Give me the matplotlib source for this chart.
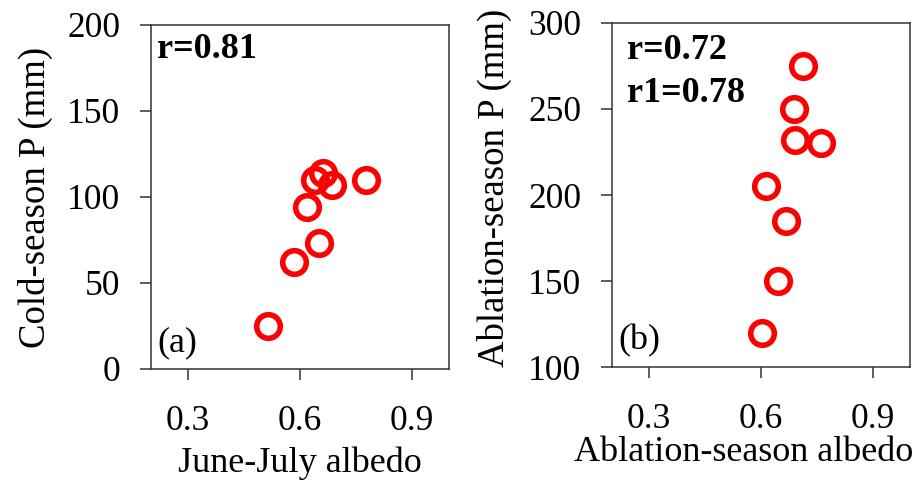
import matplotlib
matplotlib.use("Agg")
import matplotlib.pyplot as plt

# panel (a): June-July albedo vs cold-season precipitation
albedo_jj = [0.515, 0.584, 0.652, 0.618, 0.640, 0.662, 0.686, 0.778]
precip_cold = [25, 62, 73, 94, 110, 114, 107, 110]

# panel (b): ablation-season albedo vs ablation-season precipitation
albedo_abl = [0.712, 0.689, 0.692, 0.762, 0.613, 0.666, 0.646, 0.602]
precip_abl = [275, 250, 232, 230, 205, 185, 150, 120]

x_ticks = [0.3, 0.6, 0.9]
x_tick_labels = ["0.3", "0.6", "0.9"]

plt.rcParams['font.family'] = ['Liberation Serif', 'DejaVu Serif']

fig = plt.figure(figsize=(9.24, 4.8), dpi=100)
ax1 = fig.add_axes([0.1634, 0.2313, 0.3225, 0.7167])
ax2 = fig.add_axes([0.6623, 0.2354, 0.3225, 0.7167])


def style_axis(ax, x_label, y_label):
    for sp in ax.spines.values():
        sp.set_color('#333333')
        sp.set_linewidth(1.1)
    ax.set_xlim(0.2, 1.0)
    ax.set_xticks(x_ticks)
    ax.set_xticklabels(x_tick_labels)
    ax.tick_params(axis='x', direction='out', length=8, width=1.1,
                   color='#333333', pad=18, labelsize=25.5)
    ax.tick_params(axis='y', direction='out', length=8, width=1.1,
                   color='#333333', pad=14, labelsize=25.5)
    ax.set_xlabel(x_label, fontsize=26, labelpad=6)
    ax.set_ylabel(y_label, fontsize=26.5, labelpad=10)


ax1.plot(albedo_jj, precip_cold, 'o', ms=17, mfc='none', mec='#ff0000', mew=4)
style_axis(ax1, "June-July albedo", "Cold-season P (mm)")
ax1.set_ylim(0, 200)
ax1.set_yticks([0, 50, 100, 150, 200])
ax1.text(0.02, 0.93, "r=0.81", transform=ax1.transAxes, fontsize=26,
         fontweight='bold', va='center', ha='left')
ax1.text(0.02, 0.075, "(a)", transform=ax1.transAxes, fontsize=26,
         va='center', ha='left')

ax2.plot(albedo_abl, precip_abl, 'o', ms=17, mfc='none', mec='#ff0000', mew=4)
style_axis(ax2, "Ablation-season albedo", "Ablation-season P (mm)")
ax2.set_ylim(100, 300)
ax2.set_yticks([100, 150, 200, 250, 300])
ax2.xaxis.set_label_coords(0.443, -0.2)
ax2.yaxis.set_label_coords(-0.335, 0.52)
ax2.text(0.05, 0.92, "r=0.72", transform=ax2.transAxes, fontsize=26,
         fontweight='bold', va='center', ha='left')
ax2.text(0.05, 0.795, "r1=0.78", transform=ax2.transAxes, fontsize=26,
         fontweight='bold', va='center', ha='left')
ax2.text(0.02, 0.075, "(b)", transform=ax2.transAxes, fontsize=26,
         va='center', ha='left')

fig.savefig("out.png", dpi=100)
